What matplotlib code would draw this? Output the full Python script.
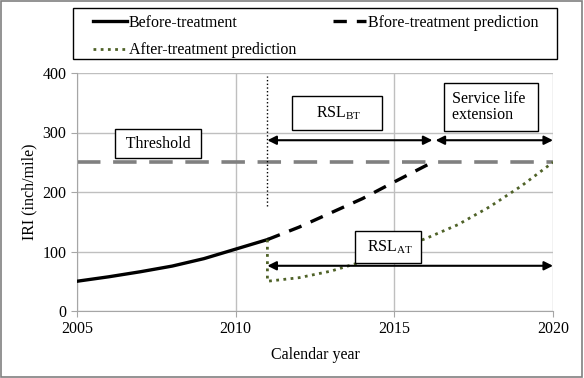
import matplotlib.pyplot as plt
from matplotlib.patches import Rectangle

plt.rcParams['font.family'] = 'Liberation Serif'
plt.rcParams['mathtext.fontset'] = 'custom'
plt.rcParams['mathtext.rm'] = 'Liberation Serif'

# data
before_years = [2005, 2006, 2007, 2008, 2009, 2010, 2011]
before_iri = [50, 57.5, 66, 75.5, 88, 104, 120]

pred_years = [2011, 2012, 2013, 2014, 2015, 2016.2]
pred_iri = [120, 141, 165, 189, 217, 250]

after_years = [2011, 2011, 2012, 2013, 2014, 2015, 2016, 2017, 2018, 2019, 2020]
after_iri = [120, 50, 56, 67, 83, 102, 122, 145, 175, 210, 250]

threshold = 250
treat_year = 2011
fail_before = 2016.2
fail_after = 2020

FS = 11.5

fig = plt.figure(figsize=(5.84, 3.78), dpi=100)
ax = fig.add_axes([77 / 584, 67 / 378, 476 / 584, 238 / 378])

ax.axhline(threshold, color='#808080', lw=2.6, dashes=(6.5, 3.5), zorder=2)
ax.plot([treat_year, treat_year], [176, 395], color='black', lw=1, ls=':', zorder=2)

l1, = ax.plot(before_years, before_iri, color='black', lw=2.4, zorder=3,
              label='Before-treatment')
l2, = ax.plot(pred_years, pred_iri, color='black', lw=2.4, dashes=(4, 3), zorder=3,
              label='Bfore-treatment prediction')
l3, = ax.plot(after_years, after_iri, color='#4f6228', lw=2, ls=(0, (1, 1.6)), zorder=3,
              label='After-treatment prediction')

arrow = dict(arrowstyle='<|-|>', color='black', lw=1.5, mutation_scale=13,
             shrinkA=0, shrinkB=0)
ax.annotate('', xy=(fail_before, 287), xytext=(treat_year, 287), arrowprops=arrow)
ax.annotate('', xy=(fail_after, 287), xytext=(fail_before + 0.1, 287), arrowprops=arrow)
ax.annotate('', xy=(fail_after, 76), xytext=(treat_year, 76), arrowprops=arrow)

ax.text(2007.55, 281, ' Threshold ', ha='center', va='center', fontsize=FS,
        bbox=dict(boxstyle='square,pad=0.4', fc='white', ec='black', lw=1), zorder=5)
ax.text(2013.2, 333, '    RSL$_{\\mathrm{BT}}$    ', ha='center', va='center', fontsize=FS,
        bbox=dict(boxstyle='square,pad=0.5', fc='white', ec='black', lw=1), zorder=5)
ax.text(2018.05, 343, 'Service life \nextension    ', ha='center', va='center', fontsize=FS,
        multialignment='left', linespacing=1.0,
        bbox=dict(boxstyle='square,pad=0.5', fc='white', ec='black', lw=1), zorder=5)
ax.text(2014.8, 108, ' RSL$_{\\mathrm{AT}}$ ', ha='center', va='center', fontsize=FS,
        bbox=dict(boxstyle='square,pad=0.45', fc='white', ec='black', lw=1), zorder=5)

ax.set_xlim(2005, 2020)
ax.set_ylim(0, 400)
ax.set_xticks([2005, 2010, 2015, 2020])
ax.set_yticks([0, 100, 200, 300, 400])
ax.grid(True, color='#bfbfbf', lw=1)
ax.set_axisbelow(True)
for s in ['top', 'right']:
    ax.spines[s].set_visible(False)
for s in ['left', 'bottom']:
    ax.spines[s].set_color('#a6a6a6')
ax.tick_params(colors='#a6a6a6', labelcolor='black', labelsize=FS, length=4)
ax.set_xlabel('Calendar year', fontsize=FS, labelpad=7)
ax.set_ylabel('IRI (inch/mile)', fontsize=FS, labelpad=4)

# legend entries without frame, frame drawn separately
leg = fig.legend([l1, l3, l2], [l1.get_label(), l3.get_label(), l2.get_label()],
                 ncol=2, loc='center', mode='expand',
                 bbox_to_anchor=(93 / 584, 316 / 378, 446 / 584, 51 / 378),
                 fontsize=FS, frameon=False, borderpad=0, borderaxespad=0,
                 handlelength=2.1, handletextpad=0.15, labelspacing=0.7)

fig.patches.append(Rectangle((73 / 584, 319 / 378), 484 / 584, 51 / 378,
                             transform=fig.transFigure, fill=False, ec='black', lw=1))
fig.patches.append(Rectangle((0.002, 0.003), 0.995, 0.994, transform=fig.transFigure,
                             fill=False, ec='#808080', lw=1.2))

fig.savefig('out.png', dpi=100)
